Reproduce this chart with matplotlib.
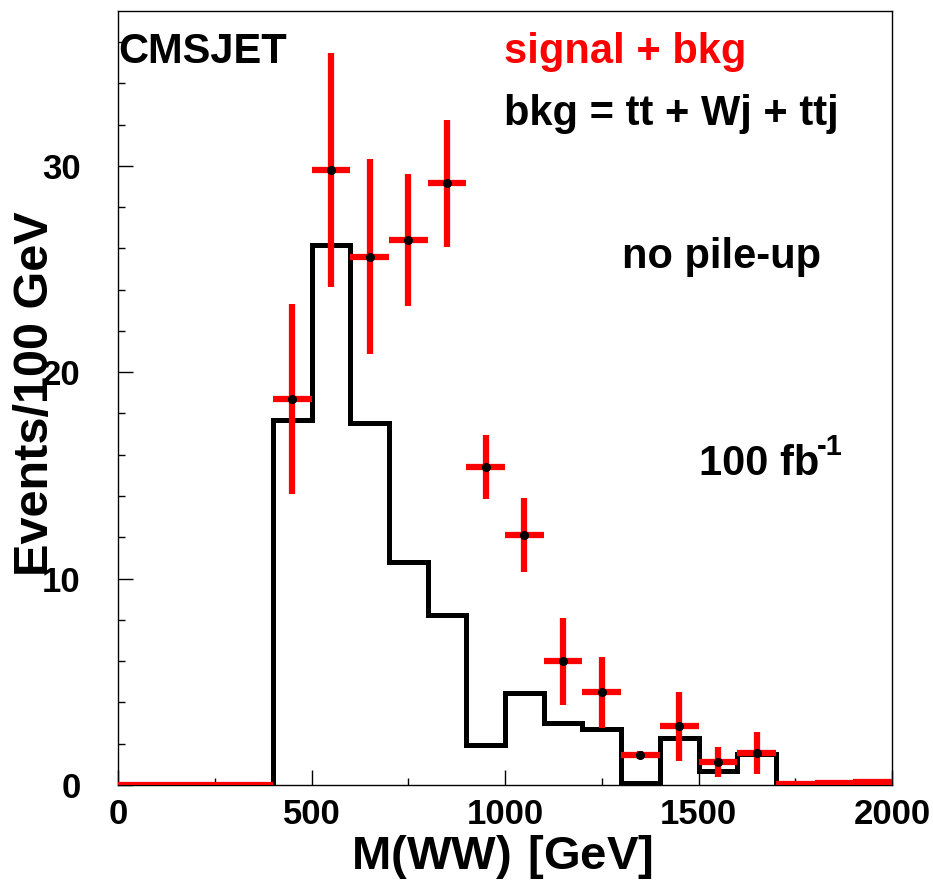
import numpy as np
import matplotlib.pyplot as plt
from matplotlib.ticker import MultipleLocator

plt.rcParams['font.family'] = ['Liberation Sans', 'DejaVu Sans']
plt.rcParams['font.weight'] = 'bold'
plt.rcParams['mathtext.fontset'] = 'custom'
plt.rcParams['mathtext.rm'] = 'Liberation Sans'
plt.rcParams['mathtext.bf'] = 'Liberation Sans:bold'

# background histogram (tt + Wj + ttj), 100 GeV bins from 400 to 1700
bkg_edges = [400, 500, 600, 700, 800, 900, 1000, 1100, 1200, 1300, 1400, 1500, 1600, 1700]
bkg_counts = [17.66, 26.14, 17.56, 10.82, 8.22, 1.92, 4.47, 2.99, 2.70, 0.10, 2.26, 0.66, 1.49]

# signal + bkg points, bin centres 50 ... 1950
sig_x = [50, 150, 250, 350, 450, 550, 650, 750, 850, 950, 1050, 1150, 1250,
         1350, 1450, 1550, 1650, 1750, 1850, 1950]
sig_y = [0, 0, 0, 0, 18.7, 29.8, 25.6, 26.4, 29.15, 15.4, 12.1, 6.0, 4.5,
         1.45, 2.84, 1.11, 1.55, 0.03, 0.08, 0.15]
sig_err = [0, 0, 0, 0, 4.6, 5.65, 4.73, 3.2, 3.07, 1.56, 1.8, 2.1, 1.72,
           0.2, 1.67, 0.73, 1.0, 0, 0, 0]

fig = plt.figure(figsize=(9.33, 8.8), dpi=100)
ax = fig.add_axes([118 / 933, 95 / 880, 774 / 933, 774 / 880])

ax.stairs(bkg_counts, bkg_edges, baseline=0, color='black', lw=3.6, zorder=2)

ax.errorbar(sig_x, sig_y, xerr=50, yerr=sig_err, fmt='none', ecolor='red',
            elinewidth=4.5, capsize=0, zorder=3)
# dots only for filled bins
xs = np.array(sig_x)
ys = np.array(sig_y)
ax.plot(xs[(ys > 1)], ys[(ys > 1)], 'o', color='black', ms=5.5, zorder=4)

ax.set_xlim(0, 2000)
ax.set_ylim(0, 37.5)
ax.xaxis.set_major_locator(MultipleLocator(500))
ax.xaxis.set_minor_locator(MultipleLocator(250))
ax.yaxis.set_major_locator(MultipleLocator(10))
ax.yaxis.set_minor_locator(MultipleLocator(2))
ax.tick_params(which='both', direction='in', top=False, right=False, width=1,
               labelsize=25)
ax.tick_params(which='major', length=11)
ax.tick_params(which='minor', length=5)
ax.tick_params(axis='y', pad=27)
ax.tick_params(axis='x', pad=9)
for lab in ax.get_xticklabels() + ax.get_yticklabels():
    lab.set_fontweight('bold')
for sp in ax.spines.values():
    sp.set_linewidth(1.0)

# labels and annotations
fig.text(118 / 933, 1 - 63 / 880, 'CMSJET', fontsize=30, fontweight='bold',
         ha='left', va='baseline')
fig.text(504 / 933, 1 - 63 / 880, 'signal + bkg', fontsize=30, fontweight='bold',
         color='red', ha='left', va='baseline')
fig.text(504 / 933, 1 - 125 / 880, 'bkg = tt + Wj + ttj', fontsize=30,
         fontweight='bold', ha='left', va='baseline')
fig.text(622 / 933, 1 - 268 / 880, 'no pile-up', fontsize=30, fontweight='bold',
         ha='left', va='baseline')
fig.text(699 / 933, 1 - 475 / 880, '100 fb', fontsize=30,
         fontweight='bold', ha='left', va='baseline')
fig.text(817 / 933, 1 - 455 / 880, '-1', fontsize=21,
         fontweight='bold', ha='left', va='baseline')

fig.text(36 / 933, 1 - 394 / 880, 'Events/100 GeV', fontsize=35, fontweight='bold',
         rotation=90, ha='center', va='center')
fig.text(502 / 933, 1 - 869 / 880,
         r'$\mathbf{M(WW)}\ \mathrm{[}\mathbf{GeV}\mathrm{]}$', fontsize=34,
         ha='center', va='baseline')

fig.savefig('out.png', dpi=100)
